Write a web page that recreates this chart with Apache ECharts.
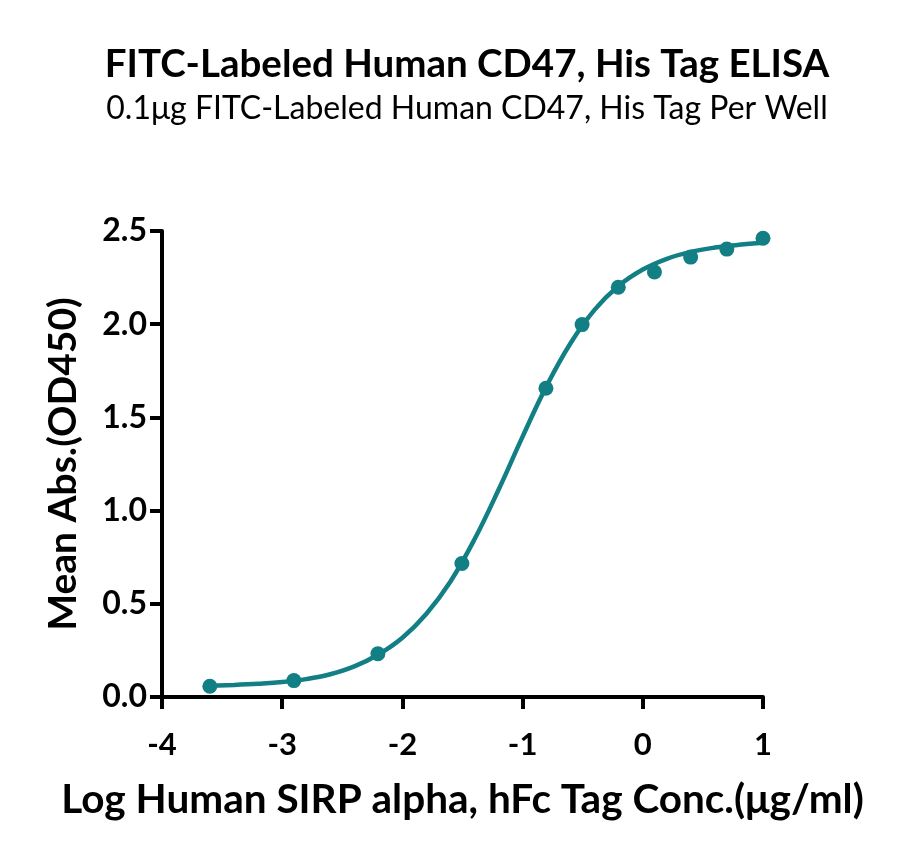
<!DOCTYPE html>
<html>
<head>
<meta charset="utf-8">
<script src="https://cdn.jsdelivr.net/npm/echarts@6/dist/echarts.min.js"></script>
<style>
html,body{margin:0;padding:0;background:#fff;}
#c{width:900px;height:855px;}
</style>
</head>
<body>
<div id="c"></div>
<script>
// Measured points (log concentration, mean OD450)
const logConc = [-3.602, -2.903, -2.204, -1.505, -0.806, -0.505, -0.204, 0.097, 0.398, 0.699, 1.0];
const meanAbs = [0.058, 0.088, 0.232, 0.716, 1.656, 1.998, 2.198, 2.280, 2.360, 2.403, 2.461];
// Fitted curve
const curveX = [-3.6, -3.4, -3.2, -3.0, -2.8, -2.6, -2.4, -2.2, -2.0, -1.8, -1.6, -1.4, -1.2, -1.0, -0.8, -0.6, -0.4, -0.2, 0.0, 0.2, 0.4, 0.6, 0.8, 1.0];
const curveY = [0.061, 0.065, 0.071, 0.080, 0.096, 0.122, 0.164, 0.228, 0.318, 0.447, 0.620, 0.846, 1.112, 1.397, 1.669, 1.899, 2.078, 2.206, 2.293, 2.351, 2.388, 2.411, 2.426, 2.437];
const xTicks = [-4, -3, -2, -1, 0, 1];
const yTicks = [0.0, 0.5, 1.0, 1.5, 2.0, 2.5];

const titleText = 'FITC-Labeled Human CD47, His Tag ELISA';
const subText = '0.1μg FITC-Labeled Human CD47, His Tag Per Well';
const xName = 'Log Human SIRP alpha, hFc Tag Conc.(μg/ml)';
const yName = 'Mean Abs.(OD450)';

const color = '#127F85';
const font = 'Lato';

const chart = echarts.init(document.getElementById('c'), null, {renderer: 'canvas'});
chart.setOption({
  backgroundColor: '#fff',
  animation: false,
  title: [
    {text: titleText, left: 462, top: 40, textAlign: 'center',
     textStyle: {fontFamily: font, fontWeight: 'bold', fontSize: 38.5, color: '#000'}},
    {text: subText, left: 462, top: 88, textAlign: 'center',
     textStyle: {fontFamily: font, fontWeight: 'normal', fontSize: 32, color: '#000'}}
  ],
  grid: {left: 162, right: 137, top: 231, bottom: 158, containLabel: false},
  xAxis: {
    type: 'value', min: -4, max: 1, interval: 1,
    name: xName, nameLocation: 'middle', nameGap: 82,
    nameTextStyle: {fontFamily: font, fontWeight: 'bold', fontSize: 40.5, color: '#000'},
    axisLine: {onZero: false, lineStyle: {color: '#000', width: 4}},
    axisTick: {show: true, length: 12, lineStyle: {color: '#000', width: 4}},
    axisLabel: {margin: 32, fontFamily: font, fontWeight: 'bold', fontSize: 31, color: '#000',
      formatter: v => xTicks.includes(v) ? String(v) : ''},
    splitLine: {show: false}
  },
  yAxis: {
    type: 'value', min: 0, max: 2.5, interval: 0.5,
    name: yName, nameLocation: 'middle', nameGap: 79, nameRotate: 90,
    nameTextStyle: {fontFamily: font, fontWeight: 'bold', fontSize: 39, color: '#000'},
    axisLine: {onZero: false, lineStyle: {color: '#000', width: 4}},
    axisTick: {show: true, length: 12, lineStyle: {color: '#000', width: 4}},
    axisLabel: {margin: 15, fontFamily: font, fontWeight: 'bold', fontSize: 32, color: '#000',
      formatter: v => yTicks.includes(v) ? v.toFixed(1) : ''},
    splitLine: {show: false}
  },
  series: [
    {
      type: 'line', data: curveX.map((x, i) => [x, curveY[i]]),
      smooth: 0.4, showSymbol: false, symbol: 'none',
      lineStyle: {color: color, width: 4.5}, z: 2
    },
    {
      type: 'scatter', data: logConc.map((x, i) => [x, meanAbs[i]]),
      symbol: 'circle', symbolSize: 15,
      itemStyle: {color: color, opacity: 1}, z: 3
    }
  ]
});
</script>
</body>
</html>
